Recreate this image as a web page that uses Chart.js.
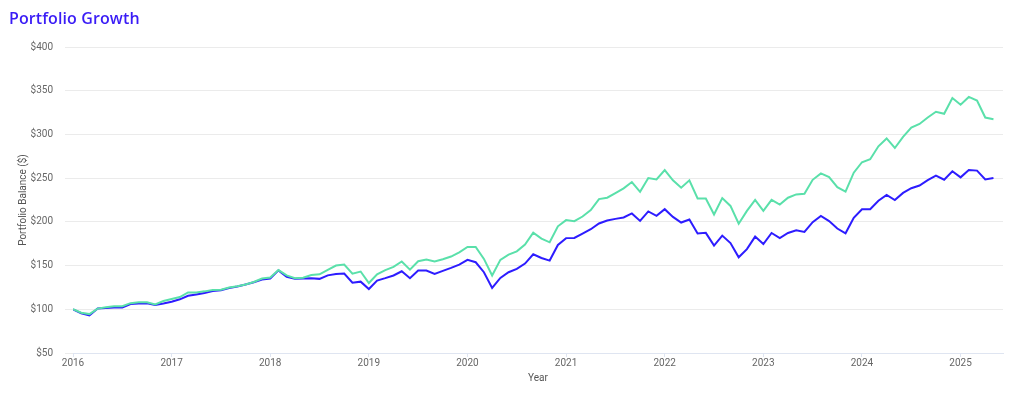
<!DOCTYPE html>
<html>
<head>
<meta charset="utf-8">
<script src="https://cdn.jsdelivr.net/npm/chart.js@4/dist/chart.umd.min.js"></script>
<style>
  html, body { margin: 0; padding: 0; background: #fff; }
  #wrap { position: relative; width: 1024px; height: 395px; }
  #title { position: absolute; left: 9px; top: 7px; font-family: "Open Sans", sans-serif; font-weight: 600; font-size: 16px; color: #3a1cf6; letter-spacing: 0.1px; }
  canvas { position: absolute; left: 0; top: 0; }
</style>
</head>
<body>
<div id="wrap">
  <canvas id="c" width="1024" height="395"></canvas>
  <div id="title">Portfolio Growth</div>
</div>
<script>
// Monthly points from Jan 2016 to May 2025
const startYear = 2016;
const monthCount = 113;
const months = [];
for (let i = 0; i < monthCount; i++) {
  const y = startYear + Math.floor(i / 12);
  const m = (i % 12) + 1;
  months.push(y + '-' + (m < 10 ? '0' + m : m));
}

const seriesGreen = [
  100, 96, 94.5, 100.8, 102.4, 103.5, 103.5, 107, 108, 108, 105.5, 109.5,
  111.8, 114, 119.3, 119.3, 120.5, 122, 122.4, 125, 126.4, 128.4, 131.2, 135.2,
  136.4, 144.8, 138.8, 135.6, 136, 139.2, 140, 145.2, 150, 151.2, 140.8, 143.2,
  130, 140, 144.8, 148.5, 154.7, 145.4, 155, 156.8, 154.6, 157.2, 160.3, 165.2,
  171.3, 171.3, 157.6, 138.6, 156.5, 162.5, 166.3, 174, 187.6, 180.8, 176.6, 194.9,
  202, 200.8, 206.1, 213.4, 226, 227.6, 232.9, 238.3, 245.5, 234.4, 250.1, 248.6,
  259.3, 247.5, 239, 247.5, 226.8, 226.8, 208.4, 227.2, 218.2, 197.8, 212.5, 225.2,
  212.5, 225.2, 219.8, 227.6, 231.4, 232.2, 248.1, 255.4, 251.2, 239.6, 234.5, 256.2,
  268.2, 271.7, 286.4, 295.4, 284.5, 297.3, 307.7, 312, 319.3, 325.9, 323.6, 341.7,
  334, 342.9, 338.7, 319.3, 317.4
];

const seriesBlue = [
  100, 95.5, 92.9, 100.8, 101.6, 102, 102, 106, 106.7, 107, 105, 106.7,
  108.7, 111.4, 115.4, 117, 118.5, 121, 121.7, 124.4, 126, 128.4, 131, 134,
  135.2, 144.5, 137.2, 134.8, 135.2, 135.6, 134.8, 138.8, 140.4, 140.8, 130.4, 131.6,
  123.2, 132.8, 135.6, 138.7, 143.5, 135.6, 144.3, 144.3, 140.5, 143.9, 147.3, 151.1,
  156.5, 153.8, 142.4, 124.5, 135.9, 142.4, 146.2, 152.3, 162.9, 158.7, 155.7, 173.6,
  181.4, 181.6, 186.6, 191.6, 198.1, 201.5, 203.4, 205, 209.6, 201.1, 211.9, 206.9,
  214.5, 205.7, 199.2, 202.7, 186.6, 187.4, 172.8, 184.3, 175.8, 159.5, 168.8, 183.1,
  174.6, 187.3, 181.5, 187.3, 190.4, 188.5, 199.7, 206.7, 200.9, 192.4, 186.9, 204.7,
  214.4, 214.4, 224.1, 230.9, 225, 233.1, 238.5, 241.6, 247.8, 252.8, 248.2, 257.9,
  250.9, 259.4, 258.6, 248.6, 250.1
];

const yTicks = [50, 100, 150, 200, 250, 300, 350, 400];
const xTickYears = [2016, 2017, 2018, 2019, 2020, 2021, 2022, 2023, 2024, 2025];

function toPoints(values) {
  return values.map((v, i) => {
    const parts = months[i].split('-');
    return { x: +parts[0] + (+parts[1] - 1) / 12, y: v };
  });
}

const tickFont = { family: 'Roboto, "Liberation Sans", sans-serif', size: 10 };

new Chart(document.getElementById('c'), {
  type: 'line',
  data: {
    datasets: [
      {
        label: 'Portfolio 2',
        data: toPoints(seriesGreen),
        borderColor: '#5ae0aa',
        backgroundColor: '#5ae0aa',
        borderWidth: 2,
        pointRadius: 0,
        tension: 0,
        fill: false
      },
      {
        label: 'Portfolio 1',
        data: toPoints(seriesBlue),
        borderColor: '#2d1cff',
        backgroundColor: '#2d1cff',
        borderWidth: 2,
        pointRadius: 0,
        tension: 0,
        fill: false
      }
    ]
  },
  options: {
    responsive: false,
    animation: false,
    layout: { padding: { left: 17, right: 21, top: 47, bottom: 11 } },
    plugins: {
      legend: { display: false },
      tooltip: { enabled: false },
      title: { display: false }
    },
    scales: {
      x: {
        type: 'linear',
        min: xTickYears[0],
        max: 2025.43,
        afterBuildTicks: (scale) => { scale.ticks = xTickYears.map(v => ({ value: v })); },
        ticks: {
          includeBounds: false,
          stepSize: 1,
          autoSkip: false,
          maxRotation: 0,
          padding: 0,
          color: '#666',
          font: tickFont,
          callback: (v) => String(v)
        },
        grid: { display: true, drawOnChartArea: false, drawTicks: true, tickLength: 4, color: '#dfe5f1' },
        border: { display: true, color: '#dfe5f1' },
        title: { display: true, text: 'Year', color: '#555', font: tickFont, padding: { top: 3, bottom: 0 } }
      },
      y: {
        min: yTicks[0],
        max: yTicks[yTicks.length - 1],
        afterBuildTicks: (scale) => { scale.ticks = yTicks.map(v => ({ value: v })); },
        afterFit: (scale) => { scale.width = 56; },
        ticks: {
          stepSize: 50,
          padding: 12,
          color: '#666',
          font: tickFont,
          callback: (v) => '$' + v
        },
        grid: { color: '#ebebeb', drawTicks: true, tickLength: 8 },
        border: { display: false },
        title: { display: true, text: 'Portfolio Balance ($)', color: '#555', font: tickFont, padding: { top: 0, bottom: 4 } }
      }
    }
  }
});
</script>
</body>
</html>
